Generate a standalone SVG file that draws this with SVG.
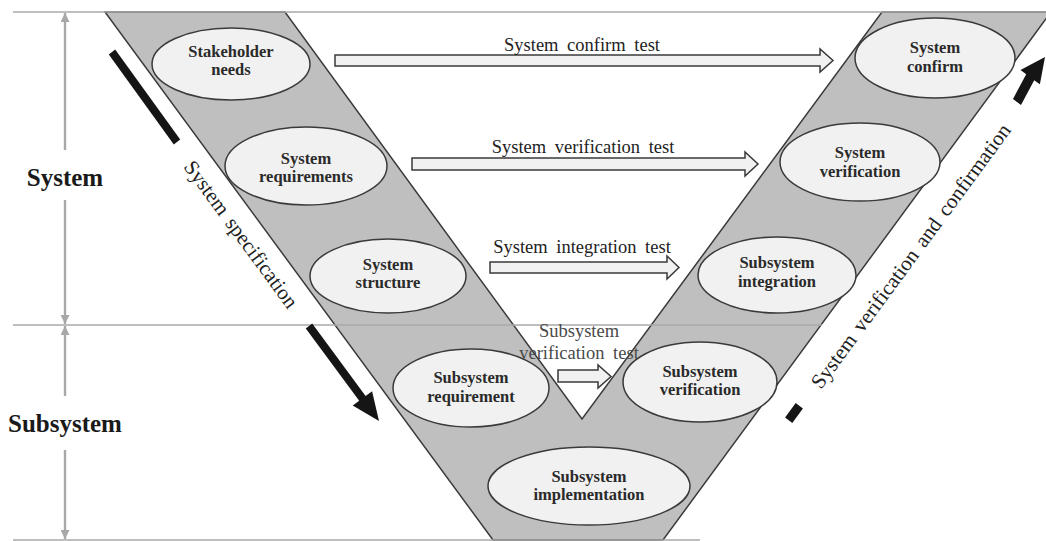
<svg xmlns="http://www.w3.org/2000/svg" width="1046" height="541" viewBox="0 0 1046 541">
  <defs>
    <marker id="grayHead" viewBox="0 0 10 10" refX="10" refY="5" markerWidth="10" markerHeight="9" markerUnits="userSpaceOnUse" orient="auto">
      <path d="M0,0 L10,5 L0,10 Z" fill="#a8a8a8"/>
    </marker>
    <style>
      .guide { stroke: #a8a8a8; stroke-width: 1.6; fill: none; }
      .dim { stroke: #a8a8a8; stroke-width: 2.4; fill: none; marker-end: url(#grayHead); }
      .band { fill: #bfbfbf; stroke: #3a3a3a; stroke-width: 1.5; stroke-linejoin: miter; }
      .node ellipse { fill: #f1f1f1; stroke: #3a3a3a; stroke-width: 1.5; }
      .node text { font-family: "Liberation Serif", "Times New Roman", serif; font-weight: bold; font-size: 16.5px; fill: #2a2a2a; text-anchor: middle; }
      .level { font-family: "Liberation Serif", "Times New Roman", serif; font-weight: bold; font-size: 25px; fill: #1a1a1a; text-anchor: middle; }
      .block { fill: #f1f1f1; stroke: #3a3a3a; stroke-width: 1.5; stroke-linejoin: miter; }
      .lbl { font-family: "Liberation Serif", "Times New Roman", serif; font-size: 18.5px; word-spacing: 4px; fill: #222; text-anchor: middle; }
      .lbl.sub { fill: #4a4a4a; }
      .phase { font-family: "Liberation Serif", "Times New Roman", serif; font-size: 21px; word-spacing: 3px; fill: #222; }
      .bar { fill: #151515; }
    </style>
  </defs>

  <!-- V-shaped development band -->
  <polygon class="band" points="105,12 285,12 582,419 882,12 1051,12 663,540 493,540"/>

  <!-- level guide lines -->
  <g id="guides">
    <line class="guide" x1="13" y1="12" x2="1046" y2="12"/>
    <line class="guide" x1="13" y1="325" x2="822" y2="325"/>
    <line class="guide" x1="13" y1="540" x2="700" y2="540"/>
    <line class="dim" x1="65" y1="150" x2="65" y2="13"/>
    <line class="dim" x1="65" y1="200" x2="65" y2="324"/>
    <line class="dim" x1="65" y1="396" x2="65" y2="326"/>
    <line class="dim" x1="65" y1="450" x2="65" y2="539"/>
    <text class="level" x="65" y="186">System</text>
    <text class="level" x="65" y="432">Subsystem</text>
  </g>

  <!-- left leg: specification phases -->
  <g id="stakeholder-needs" class="node">
    <ellipse cx="231" cy="64" rx="79" ry="36"/>
    <text x="231" y="57">Stakeholder</text>
    <text x="231" y="75">needs</text>
  </g>
  <g id="system-requirements" class="node">
    <ellipse cx="306" cy="166" rx="81" ry="39"/>
    <text x="306" y="164">System</text>
    <text x="306" y="182">requirements</text>
  </g>
  <g id="system-structure" class="node">
    <ellipse cx="388" cy="276" rx="78" ry="37"/>
    <text x="388" y="270">System</text>
    <text x="388" y="288">structure</text>
  </g>
  <g id="subsystem-requirement" class="node">
    <ellipse cx="471" cy="388" rx="78" ry="39"/>
    <text x="471" y="383">Subsystem</text>
    <text x="471" y="402">requirement</text>
  </g>

  <!-- bottom of the V -->
  <g id="subsystem-implementation" class="node">
    <ellipse cx="589" cy="486" rx="101" ry="39"/>
    <text x="589" y="482">Subsystem</text>
    <text x="589" y="500">implementation</text>
  </g>

  <!-- right leg: verification phases -->
  <g id="subsystem-verification" class="node">
    <ellipse cx="700" cy="382" rx="77" ry="40"/>
    <text x="700" y="377">Subsystem</text>
    <text x="700" y="395">verification</text>
  </g>
  <g id="subsystem-integration" class="node">
    <ellipse cx="777" cy="275" rx="79" ry="38"/>
    <text x="777" y="268">Subsystem</text>
    <text x="777" y="287">integration</text>
  </g>
  <g id="system-verification" class="node">
    <ellipse cx="860" cy="162" rx="80" ry="39"/>
    <text x="860" y="158">System</text>
    <text x="860" y="177">verification</text>
  </g>
  <g id="system-confirm" class="node">
    <ellipse cx="935" cy="58" rx="80" ry="40"/>
    <text x="935" y="53">System</text>
    <text x="935" y="72">confirm</text>
  </g>

  <!-- test relations between the two legs -->
  <g id="connectors">
    <polygon class="block" points="335,55 820,55 820,49 833,60.5 820,72 820,66 335,66"/>
    <text class="lbl" x="582" y="51">System confirm test</text>

    <polygon class="block" points="412,158 745,158 745,152 758,164 745,176 745,170 412,170"/>
    <text class="lbl" x="583" y="153">System verification test</text>

    <polygon class="block" points="490,262 667,262 667,256 679,267.5 667,279 667,273 490,273"/>
    <text class="lbl" x="582" y="253">System integration test</text>

    <polygon class="block" points="558,370 598,370 598,365 611,376.5 598,388 598,382 558,382"/>
    <text class="lbl sub" x="579" y="337">Subsystem</text>
    <text class="lbl sub" x="579" y="359">verification test</text>
  </g>

  <!-- phase direction markers -->
  <g id="spec-direction">
    <polygon class="bar" points="115.2,49.6 180.2,139.6 173.8,144.4 108.8,54.4"/>
    <text class="phase" transform="translate(183,167) rotate(53.7)">System specification</text>
    <polygon class="bar" points="312.2,323.6 365.6,396 372.1,391.3 379,421 352.7,405.5 359.2,400.8 305.8,328.4"/>
  </g>
  <g id="verify-direction">
    <polygon class="bar" points="802.9,408.4 795.7,403 785.1,417.6 792.3,423"/>
    <text class="phase" transform="translate(821,390) rotate(-53.7)">System verification and confirmation</text>
    <polygon class="bar" points="1021,105 1034.2,80.2 1039.9,84.3 1045,57 1020.5,70.1 1026.2,74.2 1013,99"/>
  </g>
</svg>
